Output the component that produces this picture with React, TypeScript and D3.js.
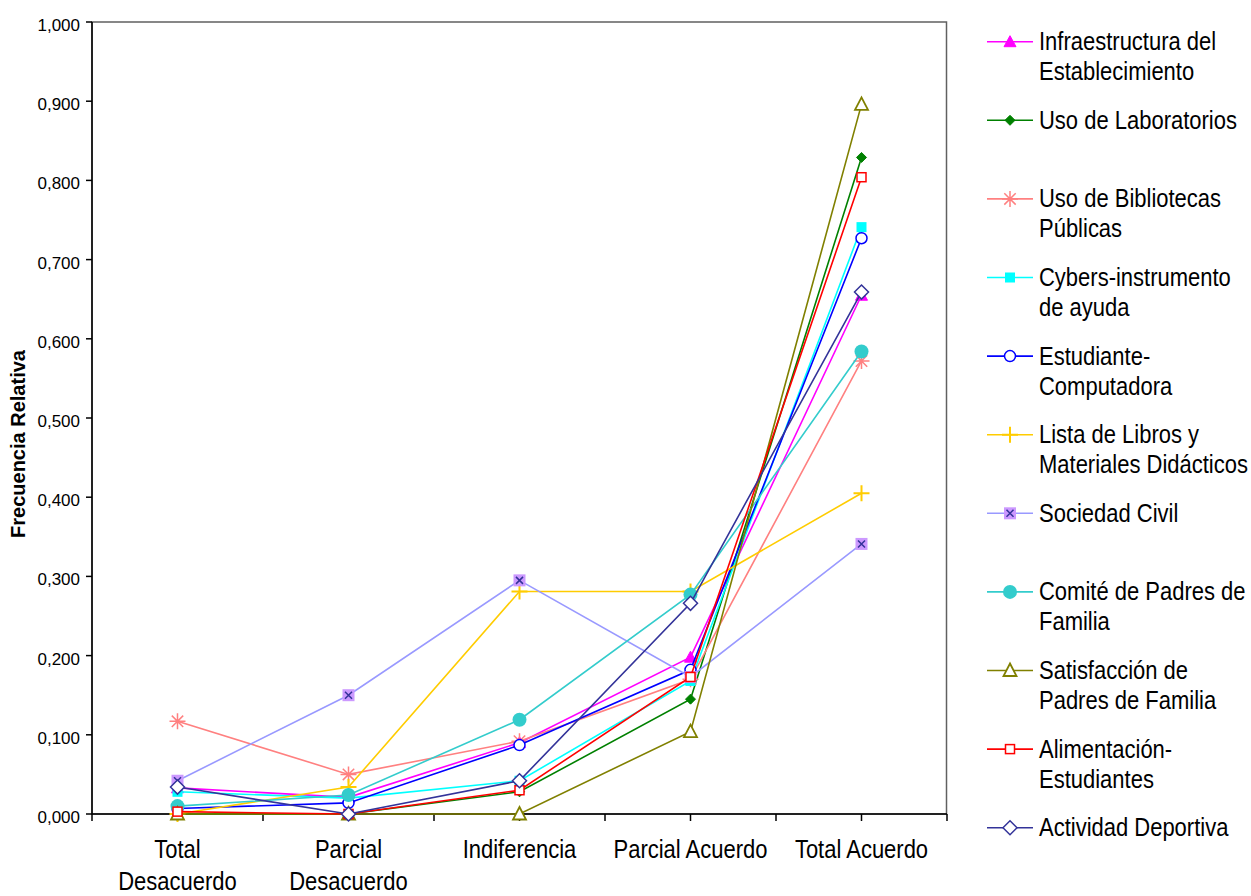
import React from "react";
import * as d3 from "d3";

const categories = ["Total Desacuerdo", "Parcial Desacuerdo", "Indiferencia", "Parcial Acuerdo", "Total Acuerdo"];
const categoryLines = [["Total", "Desacuerdo"], ["Parcial", "Desacuerdo"], ["Indiferencia"], ["Parcial Acuerdo"], ["Total Acuerdo"]];
const yTicks = [0, 0.1, 0.2, 0.3, 0.4, 0.5, 0.6, 0.7, 0.8, 0.9, 1.0];

const infraestructura = [0.033, 0.021, 0.090, 0.198, 0.655];
const laboratorios = [0, 0, 0.028, 0.145, 0.829];
const bibliotecas = [0.117, 0.050, 0.092, 0.170, 0.572];
const cybers = [0.028, 0.020, 0.042, 0.168, 0.741];
const estudiante = [0.007, 0.014, 0.087, 0.182, 0.727];
const listaLibros = [0, 0.034, 0.281, 0.281, 0.405];
const sociedadCivil = [0.042, 0.150, 0.295, 0.173, 0.341];
const comitePadres = [0.010, 0.024, 0.119, 0.277, 0.584];
const satisfaccion = [0, 0, 0, 0.104, 0.896];
const alimentacion = [0.003, 0, 0.030, 0.173, 0.804];
const deportiva = [0.034, 0, 0.042, 0.266, 0.659];

type Marker = "triUp" | "diamond" | "asterisk" | "square" | "circleOpen" | "plus" | "squareX" | "circleFill" | "triOpen" | "squareOpen" | "diamondOpen";

const series: { label: string[]; values: number[]; color: string; marker: Marker }[] = [
  { label: ["Infraestructura del", "Establecimiento"], values: infraestructura, color: "#ff00ff", marker: "triUp" },
  { label: ["Uso de Laboratorios"], values: laboratorios, color: "#008000", marker: "diamond" },
  { label: ["Uso de Bibliotecas", "Públicas"], values: bibliotecas, color: "#ff8080", marker: "asterisk" },
  { label: ["Cybers-instrumento", "de ayuda"], values: cybers, color: "#00ffff", marker: "square" },
  { label: ["Estudiante-", "Computadora"], values: estudiante, color: "#0000ff", marker: "circleOpen" },
  { label: ["Lista de Libros y", "Materiales Didácticos"], values: listaLibros, color: "#ffcc00", marker: "plus" },
  { label: ["Sociedad Civil"], values: sociedadCivil, color: "#9999ff", marker: "squareX" },
  { label: ["Comité de Padres de", "Familia"], values: comitePadres, color: "#33cccc", marker: "circleFill" },
  { label: ["Satisfacción de", "Padres de Familia"], values: satisfaccion, color: "#808000", marker: "triOpen" },
  { label: ["Alimentación-", "Estudiantes"], values: alimentacion, color: "#ff0000", marker: "squareOpen" },
  { label: ["Actividad Deportiva"], values: deportiva, color: "#333399", marker: "diamondOpen" },
];

const FONT = "'Liberation Sans', Arial, sans-serif";

function MarkerShape({ type, x, y, color }: { type: Marker; x: number; y: number; color: string }) {
  const t = `translate(${x},${y})`;
  switch (type) {
    case "triUp":
      return <path transform={t} d="M0,-6L6,5L-6,5Z" fill={color} stroke={color} strokeWidth={1} />;
    case "diamond":
      return <path transform={t} d="M0,-5L5,0L0,5L-5,0Z" fill={color} stroke={color} strokeWidth={1} />;
    case "asterisk":
      return (
        <path transform={t} d="M0,-8V8M-8,0H8M-5.7,-5.7L5.7,5.7M-5.7,5.7L5.7,-5.7" fill="none" stroke={color} strokeWidth={1.5} />
      );
    case "square":
      return <rect transform={t} x={-5} y={-5} width={10} height={10} fill={color} />;
    case "circleOpen":
      return <circle transform={t} r={5.5} fill="white" stroke={color} strokeWidth={1.5} />;
    case "plus":
      return <path transform={t} d="M0,-8V8M-8,0H8" fill="none" stroke={color} strokeWidth={2} />;
    case "squareX":
      return (
        <g transform={t}>
          <rect x={-6} y={-6} width={12} height={12} fill="#cc99ff" />
          <path d="M-3.5,-3.5L3.5,3.5M-3.5,3.5L3.5,-3.5" stroke="#333399" strokeWidth={1.5} />
        </g>
      );
    case "circleFill":
      return <circle transform={t} r={7} fill={color} />;
    case "triOpen":
      return <path transform={t} d="M0,-7L6.5,5.5L-6.5,5.5Z" fill="white" stroke={color} strokeWidth={1.8} />;
    case "squareOpen":
      return <rect transform={t} x={-4.5} y={-4.5} width={9} height={9} fill="white" stroke={color} strokeWidth={1.5} />;
    case "diamondOpen":
      return <path transform={t} d="M0,-7L7,0L0,7L-7,0Z" fill="white" stroke={color} strokeWidth={1.5} />;
  }
  return null;
}

function STxt({ x, y, children, anchor = "start" }: { x: number; y: number; children: React.ReactNode; anchor?: string }) {
  return (
    <text transform={`translate(${x},${y}) scale(1,1.15)`} fontSize={22} fontFamily={FONT} textAnchor={anchor as any} fill="#000">
      {children}
    </text>
  );
}

export default function App() {
  const left = 92, right = 947, top = 22, bottom = 814;
  const x = d3.scalePoint<string>().domain(categories).range([left, right]).padding(0.5);
  const y = d3.scaleLinear().domain([0, 1]).range([bottom, top]);
  const fmt = (v: number) => d3.format(".3f")(v).replace(".", ",");
  const line = d3.line<number>().x((_, i) => x(categories[i])!).y((v) => y(v));
  const step = x.step();
  const xTickPos = d3.range(0, categories.length * 2 + 1).map((k) => left + (k * step) / 2);
  const legendY = (i: number) => 41.7 + i * 78.6;

  return (
    <svg width={1251} height={896} style={{ position: "absolute", left: 0, top: 0, background: "white" }}>
      <rect x={0} y={0} width={1251} height={896} fill="white" />
      {/* plot border */}
      <rect x={left} y={top} width={right - left - 0.5} height={bottom - top} fill="none" stroke="#606060" strokeWidth={1.5} />
      {/* y axis */}
      <line x1={left} x2={left} y1={top} y2={bottom} stroke="#000" strokeWidth={1.5} />
      {yTicks.map((v) => (
        <g key={v}>
          <line x1={left - 6} x2={left} y1={y(v)} y2={y(v)} stroke="#000" strokeWidth={1.5} />
          <text x={80} y={y(v) + 9} fontSize={17} fontFamily={FONT} textAnchor="end" fill="#000">
            {fmt(v)}
          </text>
        </g>
      ))}
      {/* x axis */}
      <line x1={left} x2={right} y1={bottom} y2={bottom} stroke="#000" strokeWidth={1.5} />
      {xTickPos.map((p, k) => (
        <line key={k} x1={p} x2={p} y1={bottom} y2={bottom + 7} stroke="#000" strokeWidth={1.5} />
      ))}
      {categories.map((c, i) =>
        categoryLines[i].map((ln, j) => (
          <STxt key={c + j} x={x(c)!} y={858 + j * 32} anchor="middle">
            {ln}
          </STxt>
        ))
      )}
      {/* y title */}
      <text
        transform={`translate(25,444) rotate(-90)`}
        fontSize={20}
        fontWeight="bold"
        fontFamily={FONT}
        textAnchor="middle"
        fill="#000"
      >
        Frecuencia Relativa
      </text>
      {/* series */}
      {series.map((s) => (
        <g key={s.label.join(" ")}>
          <path d={line(s.values)!} fill="none" stroke={s.color} strokeWidth={1.6} />
          {s.values.map((v, i) => (
            <MarkerShape key={i} type={s.marker} x={x(categories[i])!} y={y(v)} color={s.color} />
          ))}
        </g>
      ))}
      {/* legend */}
      {series.map((s, i) => {
        const ly = legendY(i);
        return (
          <g key={"lg" + i}>
            <line x1={987} x2={1033} y1={ly} y2={ly} stroke={s.color} strokeWidth={1.6} />
            <MarkerShape type={s.marker} x={1010} y={ly} color={s.color} />
            {s.label.map((ln, j) => (
              <STxt key={j} x={1039} y={ly + 8.5 + j * 30}>
                {ln}
              </STxt>
            ))}
          </g>
        );
      })}
    </svg>
  );
}
